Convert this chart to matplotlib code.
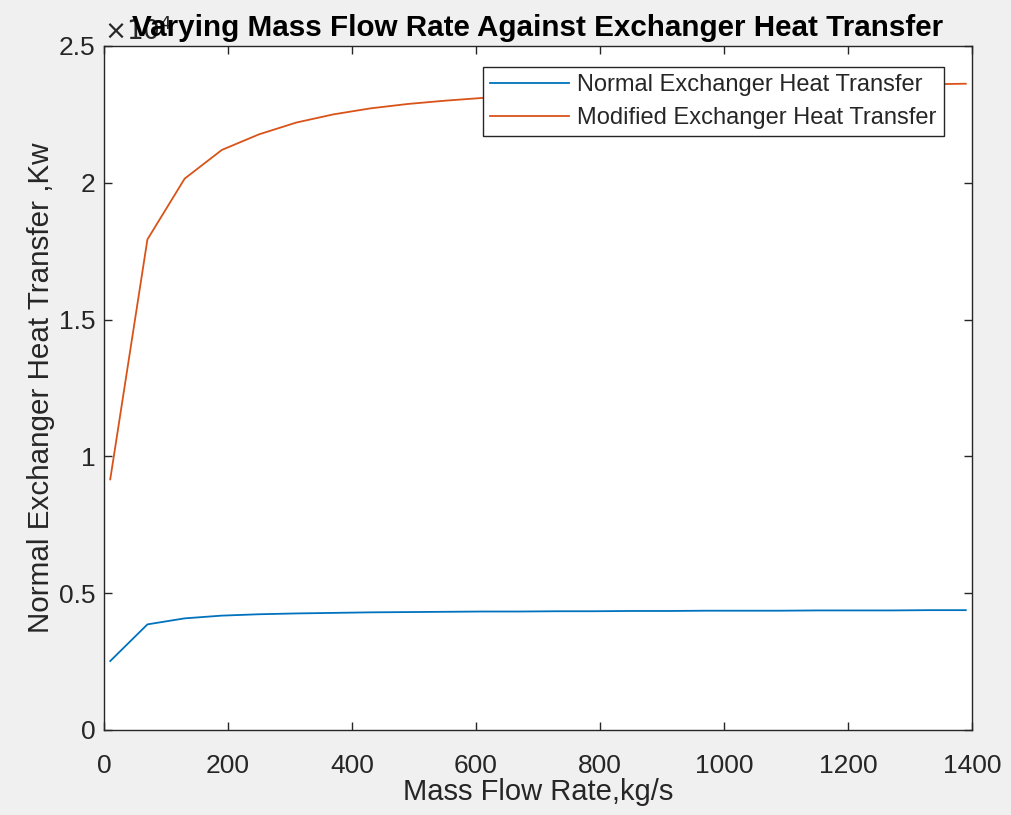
import matplotlib.pyplot as plt

plt.rcParams['font.family'] = ['Liberation Sans', 'DejaVu Sans']

# mass flow rate, kg/s
mass_flow = [10, 70, 130, 190, 250, 310, 370, 430, 490, 550, 610, 670,
             730, 790, 850, 910, 970, 1030, 1090, 1150, 1210, 1270, 1330, 1390]

# heat transfer, kW
normal_q = [2520, 3860, 4080, 4180, 4230, 4260, 4280, 4300, 4310, 4320, 4330, 4330,
            4340, 4340, 4350, 4350, 4360, 4360, 4360, 4370, 4370, 4370, 4380, 4380]
modified_q = [9160, 17930, 20150, 21200, 21770, 22200, 22500, 22720, 22880, 23000, 23100, 23180,
              23250, 23310, 23360, 23400, 23440, 23470, 23500, 23530, 23560, 23580, 23600, 23620]

x_ticks = [0, 200, 400, 600, 800, 1000, 1200, 1400]
y_ticks = [0, 5000, 10000, 15000, 20000, 25000]
y_tick_labels = ['0', '0.5', '1', '1.5', '2', '2.5']

dark = '#262626'

fig = plt.figure(figsize=(10.11, 8.15), dpi=100, facecolor='#f0f0f0')
ax = fig.add_axes([0.1029, 0.1043, 0.8585, 0.8393])
ax.set_facecolor('white')

ax.plot(mass_flow, normal_q, color='#0072BD', lw=1.3, label='Normal Exchanger Heat Transfer')
ax.plot(mass_flow, modified_q, color='#D95319', lw=1.3, label='Modified Exchanger Heat Transfer')

ax.set_xlim(0, 1400)
ax.set_ylim(0, 25000)
ax.set_xticks(x_ticks)
ax.set_yticks(y_ticks)
ax.set_yticklabels(y_tick_labels)
ax.tick_params(direction='in', top=True, right=True, length=6, width=1,
               colors=dark, labelsize=19)
ax.tick_params(axis='x', pad=17)
ax.tick_params(axis='y', pad=6)
for s in ax.spines.values():
    s.set_color(dark)
    s.set_linewidth(1)

ax.text(0.0, 1.002, r'$\times10^4$', transform=ax.transAxes, fontsize=19,
        color=dark, ha='left', va='bottom')

ax.set_title('Varying Mass Flow Rate Against Exchanger Heat Transfer',
             fontsize=21.3, fontweight='bold', color='black', pad=7)
ax.set_xlabel('Mass Flow Rate,kg/s', fontsize=21, color=dark, labelpad=0)
ax.set_ylabel('Normal Exchanger Heat Transfer ,Kw', fontsize=21.3, color=dark, labelpad=3)

leg = ax.legend(loc='upper right', bbox_to_anchor=(0.9677, 0.9693), fontsize=17,
                frameon=True, fancybox=False, framealpha=1, edgecolor=dark,
                handlelength=3.35, borderpad=0.3, labelspacing=0.47, handletextpad=0.35,
                borderaxespad=0)
leg.get_frame().set_linewidth(1)
for t in leg.get_texts():
    t.set_color(dark)

plt.savefig('out.png', dpi=100, facecolor=fig.get_facecolor())
